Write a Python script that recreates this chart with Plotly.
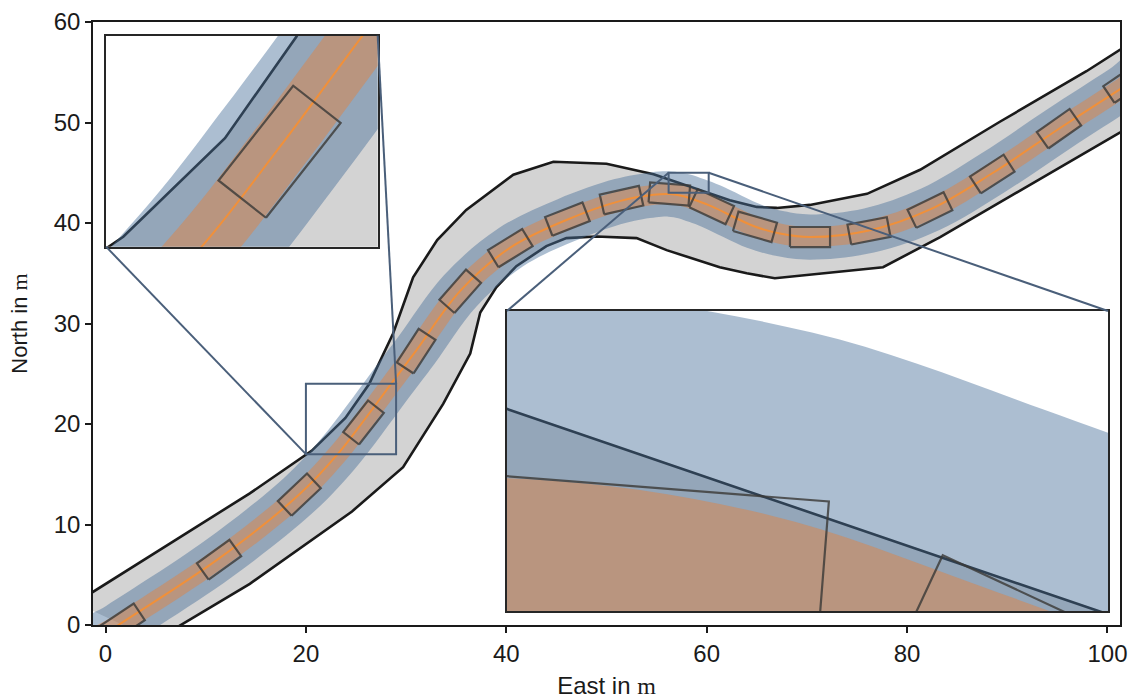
import numpy as np
import plotly.graph_objects as go

# ---------------- data ----------------
center_x = [-2.0, 1.28, 11.3, 19.3, 23.17, 25.75, 28.5, 31.0, 35.4, 40.4, 46.0, 51.4, 54.7,
            56.3, 57.7, 59.0, 60.5, 64.8, 67.3, 70.3, 76.2, 82.3, 88.5, 95.2, 101.4, 104.0]
center_y = [-2.1, 0.0, 6.6, 12.95, 17.0, 20.3, 24.0, 27.3, 33.25, 37.55, 40.3, 42.2, 42.8,
            42.88, 42.67, 42.23, 41.65, 39.65, 38.95, 38.6, 39.25, 41.35, 44.95, 49.4, 53.4, 55.1]

upper_x = [-3.0, 14.4, 20.57, 23.94, 26.31, 28.7, 30.7, 33.1, 36.0, 40.7, 44.7, 50.0, 54.7,
           62.3, 65.0, 67.0, 70.3, 76.0, 81.3, 89.3, 97.9, 101.4, 104.0]
upper_y = [2.2, 13.1, 17.33, 20.6, 23.97, 29.0, 34.6, 38.3, 41.3, 44.8, 46.1, 45.9, 44.86,
           42.26, 41.6, 41.5, 41.8, 42.9, 45.3, 50.1, 55.1, 57.4, 59.0]

lower_x = [5.0, 7.5, 14.4, 24.6, 29.7, 33.7, 36.4, 37.4, 39.0, 41.0, 44.0, 46.0, 49.0, 53.0,
           56.0, 61.3, 64.0, 66.8, 72.0, 77.6, 83.3, 91.9, 101.4, 104.0]
lower_y = [-1.5, 0.0, 4.1, 11.3, 15.7, 22.0, 27.0, 31.1, 33.6, 35.7, 37.7, 38.5, 38.65, 38.5,
           37.3, 35.6, 35.0, 34.5, 35.0, 35.6, 38.6, 43.6, 49.1, 50.6]

pose_x = [1.7, 11.33, 19.34, 25.75, 31.0, 35.4, 40.4, 46.1, 51.5, 56.27, 60.49, 64.82,
          70.31, 76.2, 82.28, 88.5, 95.16, 101.8]
pose_y = [0.2, 6.49, 12.97, 20.15, 27.25, 33.2, 37.5, 40.39, 42.28, 42.89, 41.62, 39.62,
          38.6, 39.22, 41.29, 44.87, 49.38, 53.9]
pose_heading_deg = [33.6, 35.7, 43.3, 51.8, 57.0, 48.5, 31.5, 21.4, 12.7, -4.5, -25.0, -16.0,
                    0.0, 10.8, 26.0, 32.9, 35.0, 34.0]

vehicle_length = 4.0
vehicle_width = 2.0
uncertainty_half_width = 2.25

x_ticks = [0, 20, 40, 60, 80, 100]
y_ticks = [0, 10, 20, 30, 40, 50, 60]
x_range = [-1.25, 101.25]
y_range = [0, 60]

inset1_xrange = [20, 29]
inset1_yrange = [17, 24]
inset2_xrange = [56.2, 60.2]
inset2_yrange = [43, 45]

# ---------------- styles ----------------
ROAD_FILL = "#d3d3d3"
BOUND_COL = "#1a1a1a"
BLUE = "rgba(72,110,152,0.45)"
ORANGE_BAND = "rgba(221,132,70,0.5)"
ORANGE_LINE = "#f0903a"
RECT_COL = "rgba(60,58,56,0.82)"
MARK_COL = "#4a5f7a"
FONT = "Liberation Sans, Arial, sans-serif"

# ---------------- geometry helpers ----------------
cx = np.array(center_x, float)
cy = np.array(center_y, float)
pts = np.stack([cx, cy], 1)
seg = np.diff(pts, axis=0)
seg /= np.linalg.norm(seg, axis=1)[:, None]
tang = np.zeros_like(pts)
tang[0] = seg[0]
tang[-1] = seg[-1]
tang[1:-1] = seg[:-1] + seg[1:]
tang /= np.linalg.norm(tang, axis=1)[:, None]
nrm = np.stack([-tang[:, 1], tang[:, 0]], 1)


def band(w):
    left = pts + w * nrm
    right = pts - w * nrm
    poly = np.concatenate([left, right[::-1], left[:1]])
    return poly[:, 0], poly[:, 1]


blue_x, blue_y = band(uncertainty_half_width)
orng_x, orng_y = band(vehicle_width / 2)

road_x = list(upper_x) + list(lower_x[::-1]) + [upper_x[0]]
road_y = list(upper_y) + list(lower_y[::-1]) + [upper_y[0]]

rect_x, rect_y = [], []
for px, py, h in zip(pose_x, pose_y, pose_heading_deg):
    a = np.radians(h)
    t = np.array([np.cos(a), np.sin(a)])
    n = np.array([-np.sin(a), np.cos(a)])
    c = np.array([px, py])
    hl, hw = vehicle_length / 2, vehicle_width / 2
    corners = [c - hl * t - hw * n, c + hl * t - hw * n, c + hl * t + hw * n,
               c - hl * t + hw * n, c - hl * t - hw * n]
    rect_x += [p[0] for p in corners] + [None]
    rect_y += [p[1] for p in corners] + [None]

fig = go.Figure()


def add_scene(xa, ya):
    kw = dict(xaxis=xa, yaxis=ya, showlegend=False, hoverinfo="skip")
    fig.add_trace(go.Scatter(x=road_x, y=road_y, mode="lines", fill="toself",
                             fillcolor=ROAD_FILL, line=dict(width=0), **kw))
    fig.add_trace(go.Scatter(x=upper_x, y=upper_y, mode="lines",
                             line=dict(color=BOUND_COL, width=2.6), **kw))
    fig.add_trace(go.Scatter(x=lower_x, y=lower_y, mode="lines",
                             line=dict(color=BOUND_COL, width=2.6), **kw))
    fig.add_trace(go.Scatter(x=blue_x, y=blue_y, mode="lines", fill="toself",
                             fillcolor=BLUE, line=dict(width=0, shape="spline", smoothing=1.0), **kw))
    fig.add_trace(go.Scatter(x=orng_x, y=orng_y, mode="lines", fill="toself",
                             fillcolor=ORANGE_BAND, line=dict(width=0, shape="spline", smoothing=1.0), **kw))
    fig.add_trace(go.Scatter(x=center_x, y=center_y, mode="lines",
                             line=dict(color=ORANGE_LINE, width=2.0, shape="spline", smoothing=1.0), **kw))
    fig.add_trace(go.Scatter(x=rect_x, y=rect_y, mode="lines",
                             line=dict(color=RECT_COL, width=2.2), **kw))


add_scene("x", "y")
add_scene("x2", "y2")
add_scene("x3", "y3")

# inset placement (paper fractions of the main plotting area)
in1_dom_x = [0.0127, 0.2772]
in1_dom_y = [0.6274, 0.9773]
in2_dom_x = [0.4031, 0.9883]
in2_dom_y = [0.0232, 0.5207]

axis_main = dict(showgrid=False, zeroline=False, showline=True, mirror=True,
                 linecolor="#1a1a1a", linewidth=1.6, ticks="outside", ticklen=6,
                 tickwidth=1.5, tickcolor="#1a1a1a", automargin=False,
                 tickfont=dict(family=FONT, size=24, color="#1a1a1a"))

fig.update_layout(
    width=1132, height=699,
    margin=dict(l=93, r=12, t=22, b=74),
    paper_bgcolor="white", plot_bgcolor="white",
    font=dict(family=FONT, size=22, color="#1a1a1a"),
    xaxis=dict(range=x_range, tickvals=x_ticks, domain=[0, 1],
               title=dict(text="East in <span style='font-family:Liberation Serif'>m</span>",
                          font=dict(family=FONT, size=24), standoff=16), **axis_main),
    yaxis=dict(range=y_range, tickvals=y_ticks, domain=[0, 1],
               title=dict(text="North in <span style='font-family:Liberation Serif'>m</span>",
                          font=dict(family=FONT, size=22), standoff=20), **axis_main),
)

inset_axis = dict(showgrid=False, zeroline=False, showline=True, mirror=True,
                  linecolor="#262626", linewidth=1.8, showticklabels=False, ticks="")
fig.update_layout(
    xaxis2=dict(domain=in1_dom_x, range=inset1_xrange, anchor="y2", **inset_axis),
    yaxis2=dict(domain=in1_dom_y, range=inset1_yrange, anchor="x2", **inset_axis),
    xaxis3=dict(domain=in2_dom_x, range=inset2_xrange, anchor="y3", **inset_axis),
    yaxis3=dict(domain=in2_dom_y, range=inset2_yrange, anchor="x3", **inset_axis),
)

shapes = []
# white backgrounds for the insets (drawn in the inset subplots' own layers)
shapes.append(dict(type="rect", xref="x2", yref="y2", x0=inset1_xrange[0], x1=inset1_xrange[1],
                   y0=inset1_yrange[0], y1=inset1_yrange[1], fillcolor="white",
                   line=dict(width=0), layer="below"))
shapes.append(dict(type="rect", xref="x3", yref="y3", x0=inset2_xrange[0], x1=inset2_xrange[1],
                   y0=inset2_yrange[0], y1=inset2_yrange[1], fillcolor="white",
                   line=dict(width=0), layer="below"))


def dom_to_main(dx, dy):
    return (x_range[0] + dx * (x_range[1] - x_range[0]),
            y_range[0] + dy * (y_range[1] - y_range[0]))


# region marks
for xr, yr in [(inset1_xrange, inset1_yrange), (inset2_xrange, inset2_yrange)]:
    shapes.append(dict(type="rect", xref="x", yref="y", x0=xr[0], x1=xr[1], y0=yr[0], y1=yr[1],
                       line=dict(color=MARK_COL, width=2), layer="above"))

# connectors
a = dom_to_main(in1_dom_x[0], in1_dom_y[0])
b = dom_to_main(in1_dom_x[1], in1_dom_y[1])
conn = [(a, (inset1_xrange[0], inset1_yrange[0])), (b, (inset1_xrange[1], inset1_yrange[1]))]
c = dom_to_main(in2_dom_x[0], in2_dom_y[1])
d = dom_to_main(in2_dom_x[1], in2_dom_y[1])
conn += [(c, (inset2_xrange[0], inset2_yrange[1])), (d, (inset2_xrange[1], inset2_yrange[1]))]
for p0, p1 in conn:
    shapes.append(dict(type="line", xref="x", yref="y", x0=p0[0], y0=p0[1], x1=p1[0], y1=p1[1],
                       line=dict(color=MARK_COL, width=2), layer="above"))

fig.update_layout(shapes=shapes)
# remove the default page margin so the 1132x699 figure fills the window exactly
fig.write_html("out.html", config={"displayModeBar": False},
               post_script="document.body.style.margin='0';document.body.style.overflow='hidden';")
